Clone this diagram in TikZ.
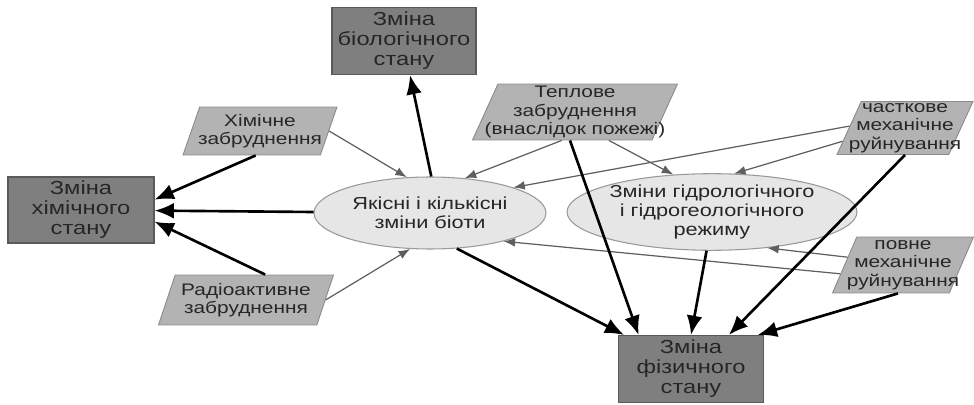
\documentclass[tikz,border=0pt]{standalone}
\usepackage{fontspec}
\setmainfont{Liberation Sans}[FakeStretch=1.25]
\usetikzlibrary{shapes.geometric,arrows.meta}
\definecolor{boxfill}{HTML}{7F7F7F}
\definecolor{boxedge}{HTML}{5A5A5A}
\definecolor{factorfill}{HTML}{B3B3B3}
\definecolor{factoredge}{HTML}{8A8A8A}
\definecolor{changefill}{HTML}{E6E6E6}
\definecolor{changeedge}{HTML}{999999}
\definecolor{linkgray}{HTML}{5F5F5F}
\definecolor{textgray}{HTML}{262626}

\begin{document}
\begin{tikzpicture}[x=0.02cm,y=-0.02cm,
    statebox/.style={draw=boxedge, fill=boxfill, line width=0.6pt, align=center,
      text=textgray, font=\fontsize{10.8}{11.4}\selectfont, inner sep=1pt},
    factor/.style={trapezium, trapezium left angle=64, trapezium right angle=116,
      trapezium stretches body, draw=factoredge, fill=factorfill, line width=0.5pt,
      align=center, text=textgray, font=\fontsize{9.5}{10.6}\selectfont,
      inner xsep=-25pt, inner ysep=0pt},
    change/.style={ellipse, draw=changeedge, fill=changefill, line width=0.6pt,
      align=center, text=textgray, font=\fontsize{9.9}{10.8}\selectfont, inner sep=0pt},
    thinlink/.style={draw=linkgray, line width=0.7pt, -{Latex[length=6.5pt,width=5pt]}},
    thicklink/.style={draw=black, line width=1.5pt, -{Latex[length=11pt,width=9pt]}}]

    \useasboundingbox (0,0) rectangle (974,405);

    % states
    \node[statebox, minimum width=2.92cm, minimum height=1.32cm] (chem) at (81,210) {Зміна\\хімічного\\стану};
    \node[statebox, minimum width=2.88cm, minimum height=1.34cm] (bio) at (404,41) {Зміна\\біологічного\\стану};
    \node[statebox, minimum width=2.90cm, minimum height=1.34cm] (phys) at (691,369) {Зміна\\фізичного\\стану};

    % factors
    \node[factor, minimum width=3.08cm, minimum height=0.96cm] (chempol) at (260,131) {Хімічне\\забруднення};
    \node[factor, minimum width=3.50cm, minimum height=1.00cm] (radio) at (246,300) {Радіоактивне\\забруднення};
    \node[factor, minimum width=4.10cm, minimum height=1.12cm] (thermal) at (575,112) {Теплове\\забруднення\\(внаслідок пожежі)};
    \node[factor, minimum width=2.72cm, minimum height=1.06cm] (partial) at (905,128) {часткове\\механічне\\руйнування};
    \node[factor, minimum width=2.82cm, minimum height=1.12cm] (total) at (903,265) {повне\\механічне\\руйнування};

    % changes
    \node[change, minimum width=4.64cm, minimum height=1.44cm] (biota) at (430,213) {Якісні і кількісні\\зміни біоти};
    \node[change, minimum width=4.62cm, minimum height=1.40cm] (hydro) at (712,212) {Зміни гідрологічного\\і гідрогеологічного\\режиму};

    % thin links
    \draw[thinlink] (chempol.east) -- (biota.123);
    \draw[thinlink] (thermal.-115) -- (biota.45);
    \draw[thinlink] (partial.178) -- (biota.17);
    \draw[thinlink] (total.188) -- (biota.-21);
    \draw[thinlink] (radio.east) -- (biota.-119);
    \draw[thinlink] (thermal.-40) -- (hydro.136);
    \draw[thinlink] (partial.192) -- (hydro.60);
    \draw[thinlink] (total.172) -- (hydro.-33);

    % thick links
    \draw[thicklink] (biota.88) -- (bio.-80);
    \draw[thicklink] (biota) -- (chem);
    \draw[thicklink] (chempol.-100) -- (chem.8);
    \draw[thicklink] (radio.53) -- (chem.-9);
    \draw[thicklink] (biota.-53) -- (phys.153);
    \draw[thicklink] (thermal.-100) -- (phys.147);
    \draw[thicklink] (hydro.-98) -- (phys.north);
    \draw[thicklink] (partial.south) -- (phys.42);
    \draw[thicklink] (total.-100) -- (phys.27);
\end{tikzpicture}
\end{document}
